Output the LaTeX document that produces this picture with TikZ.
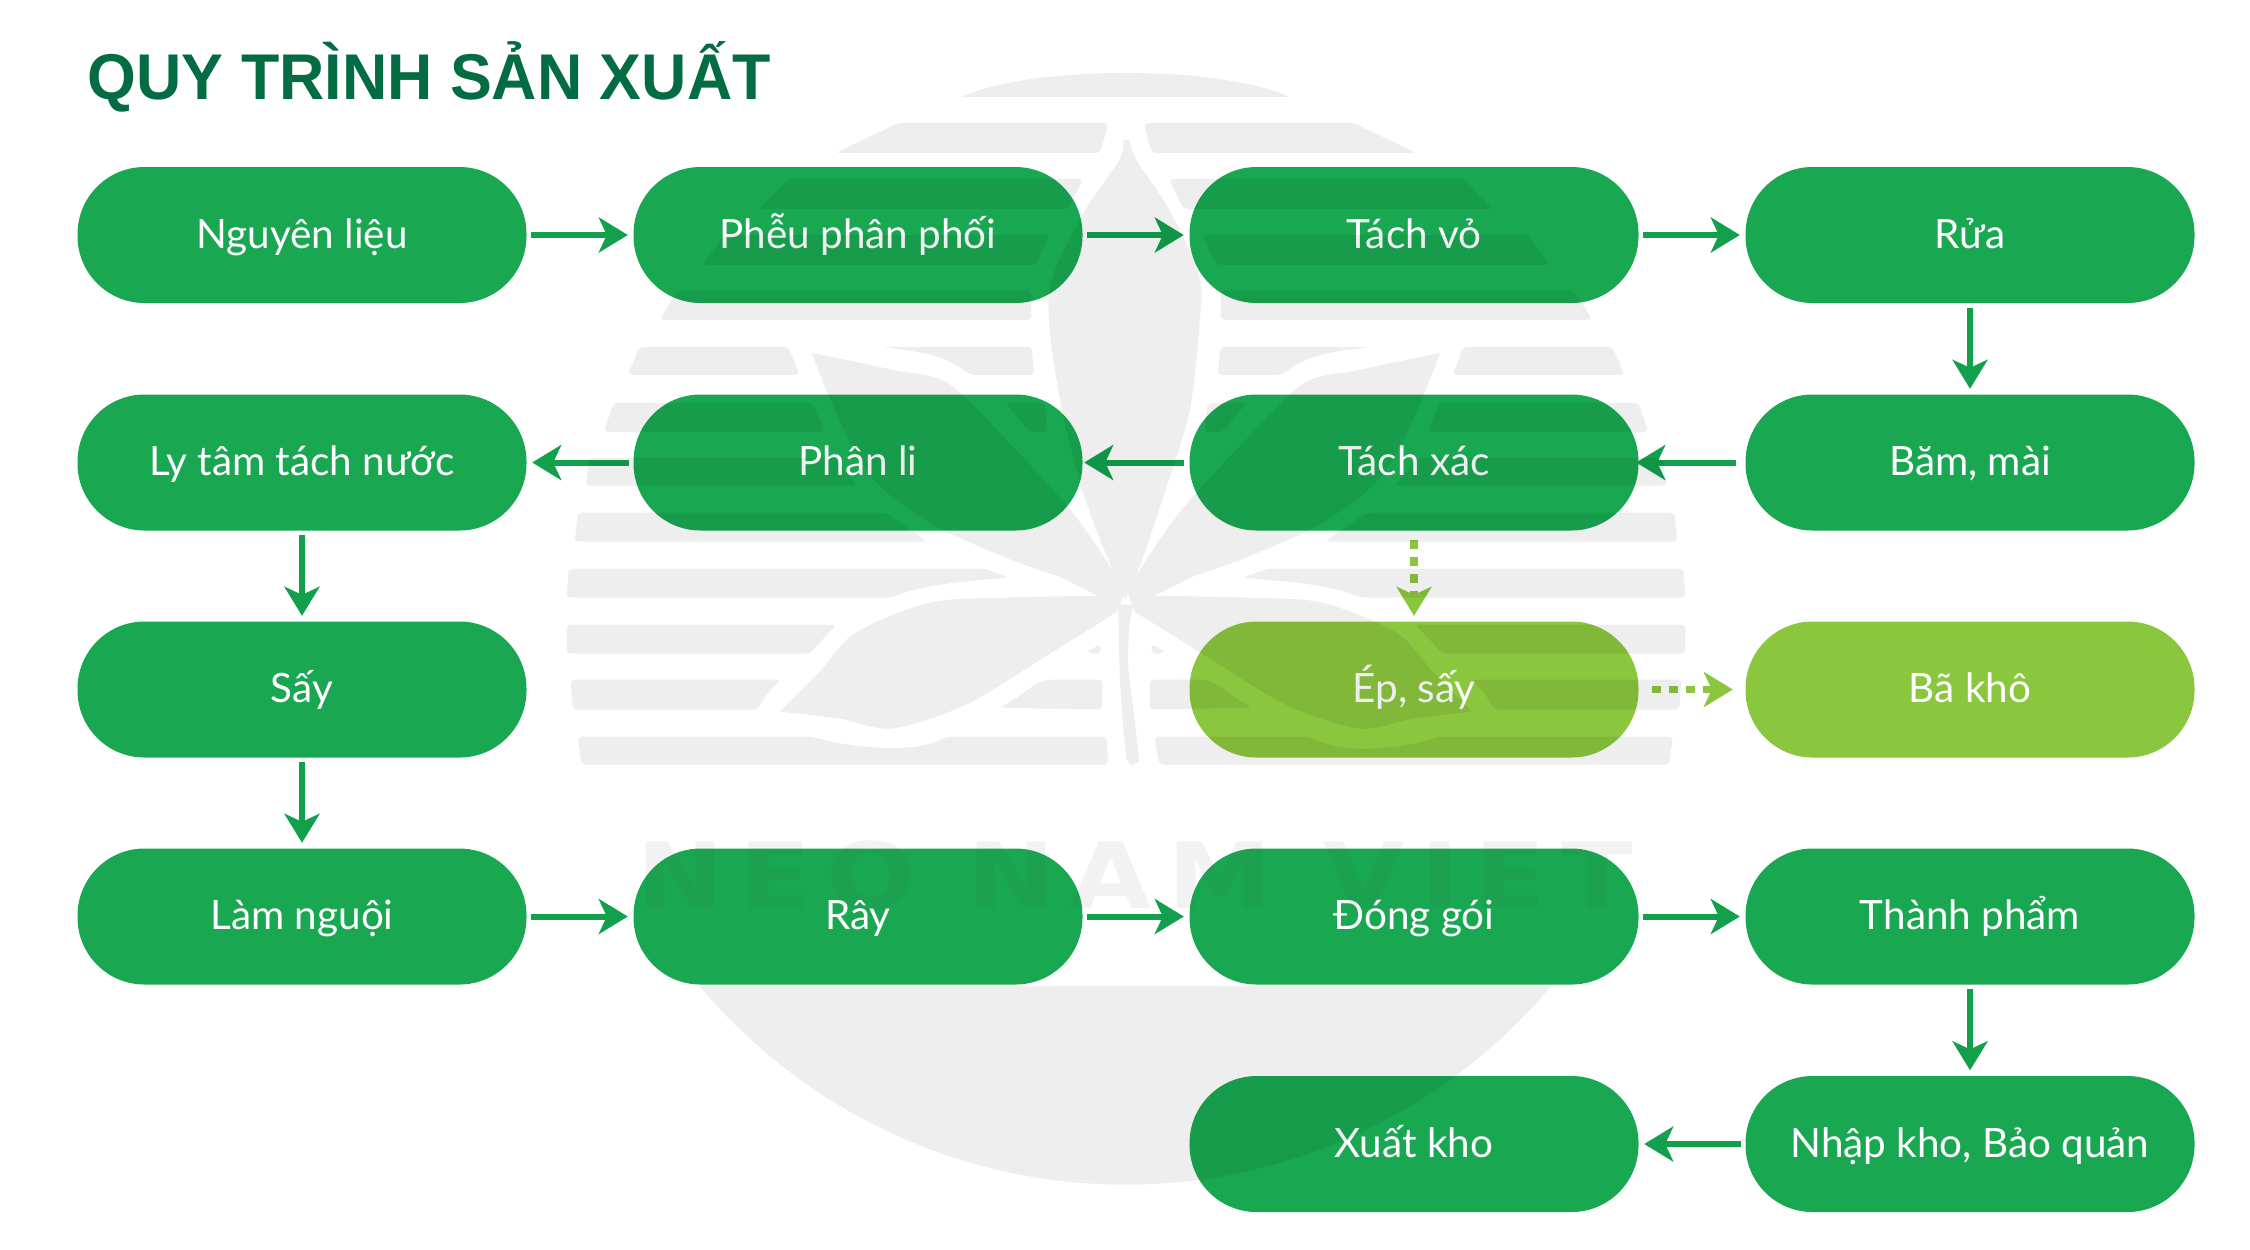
\documentclass[tikz,border=0pt]{standalone}
\usepackage{fontspec}
\setmainfont{Lato}
\newfontfamily\titlefont{Liberation Sans}
\newfontfamily\markfont{DejaVu Sans}[LetterSpace=14.5]
\usepackage{tikz}
\usetikzlibrary{arrows.meta, positioning}
\definecolor{pillgreen}{HTML}{19A851}
\definecolor{pilllime}{HTML}{8BC63F}
\definecolor{flowgreen}{HTML}{12A04C}
\definecolor{titlegreen}{HTML}{046C43}

\begin{document}
\begin{tikzpicture}[
    stepbox/.style={rectangle, rounded corners=0.67cm, minimum width=4.49cm, minimum height=1.36cm, fill=pillgreen, text=white, text height=0.36cm, text depth=0.10cm, font=\fontsize{11.5}{13}\selectfont},
    bybox/.style={stepbox, fill=pilllime},
    flow/.style={-{Stealth[length=0.29cm, width=0.35cm, inset=0.08cm]}, line width=0.06cm, flowgreen, shorten <=0.04cm, shorten >=0.05cm},
    byflow/.style={-{Stealth[length=0.29cm, width=0.35cm, inset=0.08cm]}, line width=0.075cm, pilllime, dash pattern=on 0.09cm off 0.08cm, shorten <=0.09cm, shorten >=0.05cm},
    stripe/.style={fill=black, rounded corners=0.04cm}
]
\useasboundingbox (0,0) rectangle (22.5,-12.49);

% Title
\node[anchor=base west, inner sep=0, text=titlegreen, font=\titlefont\bfseries\fontsize{18.4}{20}\selectfont] (title) at (0.87,-0.99) {\scalebox{0.97}[1]{QUY TRÌNH SẢN XUẤT}};

% Row 1
\node[stepbox] (nguyenlieu) at (3.02,-2.35) {Nguyên liệu};
\node[stepbox] (pheu) at (8.58,-2.35) {Phễu phân phối};
\node[stepbox] (tachvo) at (14.14,-2.35) {Tách vỏ};
\node[stepbox] (rua) at (19.70,-2.35) {Rửa};

% Row 2
\node[stepbox] (lytam) at (3.02,-4.625) {Ly tâm tách nước};
\node[stepbox] (phanli) at (8.58,-4.625) {Phân li};
\node[stepbox] (tachxac) at (14.14,-4.625) {Tách xác};
\node[stepbox] (bam) at (19.70,-4.625) {Băm, mài};

% Row 3
\node[stepbox] (say) at (3.02,-6.895) {Sấy};
\node[bybox] (epsay) at (14.14,-6.895) {Ép, sấy};
\node[bybox] (bakho) at (19.70,-6.895) {Bã khô};

% Row 4
\node[stepbox] (lamnguoi) at (3.02,-9.165) {Làm nguội};
\node[stepbox] (ray) at (8.58,-9.165) {Rây};
\node[stepbox] (donggoi) at (14.14,-9.165) {Đóng gói};
\node[stepbox] (thanhpham) at (19.70,-9.165) {Thành phẩm};

% Row 5
\node[stepbox] (xuatkho) at (14.14,-11.44) {Xuất kho};
\node[stepbox] (nhapkho) at (19.70,-11.44) {Nhập kho, Bảo quản};

% Main line
\draw[flow] (nguyenlieu) -- (pheu);
\draw[flow] (pheu) -- (tachvo);
\draw[flow] (tachvo) -- (rua);
\draw[flow] (rua) -- (bam);
\draw[flow, shorten <=0.09cm, shorten >=-0.03cm] (bam) -- (tachxac);
\draw[flow, shorten <=0.05cm, shorten >=0.01cm] (tachxac) -- (phanli);
\draw[flow] (phanli) -- (lytam);
\draw[flow] (lytam) -- (say);
\draw[flow] (say) -- (lamnguoi);
\draw[flow] (lamnguoi) -- (ray);
\draw[flow] (ray) -- (donggoi);
\draw[flow] (donggoi) -- (thanhpham);
\draw[flow] (thanhpham) -- (nhapkho);
\draw[flow] (nhapkho) -- (xuatkho);

% By-product line
\draw[byflow] (tachxac) -- (epsay);
\draw[byflow, shorten <=0.13cm, shorten >=0.12cm] (epsay) -- (bakho);

% Watermark, laid over the boxes
\begin{scope}[transparency group, opacity=0.065, x=0.01cm, y=-0.01cm]
    % Top cap and bottom bowl
    \fill[black] (962,97) .. controls (1030,65) and (1222,65) .. (1290,97) -- cycle;
    \begin{scope}
        \clip (690,987) rectangle (1560,1195);
        \fill[black] (1126,629) circle (5.56cm);
    \end{scope}

    % Left half of the stripes and leaves, then its mirror image
    \foreach \flip/\offset in {1/0, -1/22.52} {
    \begin{scope}[xshift=\offset cm, xscale=\flip]
        \fill[stripe] (836,153) -- (899,123) -- (1109,123) -- (1101,153) -- cycle;
        \fill[stripe] (760,209) -- (789,179) -- (1084,179) -- (1069,209) -- cycle;
        \fill[stripe] (703,265) -- (725,235) -- (1050,235) -- (1036,265) -- cycle;
        \fill[stripe] (660,320) -- (678,291) -- (1032,291) -- (1032,320) -- cycle;
        \fill[stripe] (628,375) -- (640,347) -- (789,347) -- (800,375) -- cycle;
        \fill[stripe] (971,375) .. controls (940,352) and (915,352) .. (882,347) -- (1032,347) -- (1035,375) -- cycle;
        \fill[stripe] (604,432) -- (614,403) -- (813,403) -- (825,432) -- cycle;
        \fill[stripe] (1030,432) -- (1006,403) -- (1045,403) -- (1048,432) -- cycle;
        \fill[stripe] (586,486) -- (590,458) -- (835,458) -- (858,486) -- cycle;
        \fill[stripe] (575,542) -- (578,513) -- (886,513) -- (928,542) -- cycle;
        \fill[stripe] (567,598) -- (569,569) -- (985,569) -- (1010,578) .. controls (960,582) and (925,585) .. (891,598) -- cycle;
        \fill[stripe] (567,654) -- (567,625) -- (837,625) -- (810,654) -- cycle;
        \fill[stripe] (573,710) -- (571,680) -- (782,680) .. controls (770,690) and (765,698) .. (758,710) -- cycle;
        \fill[stripe] (1000,708) .. controls (1025,695) and (1035,682) .. (1052,680) -- (1103,680) -- (1103,710) -- cycle;
        \fill[black, rounded corners=0.02cm] (1088,652) -- (1100,645) -- (1102,651) -- (1097,655) -- cycle;

        % Side leaves
        \fill[black] plot[smooth] coordinates {(812,353) (893,370) (948,383) (1004,437) (1071,510) (1113,570)}
            -- (1126,590) -- (1100,597)
            -- plot[smooth] coordinates {(1060,577) (1004,557) (930,523) (874,480) (841,423) (812,353)} -- cycle;
        \fill[black] plot[smooth] coordinates {(780,712) (819,673) (856,633) (930,603) (1004,598) (1102,596)}
            -- (1126,590) -- (1118,612)
            -- plot[smooth] coordinates {(1118,612) (1041,660) (967,705) (893,729) (840,719) (780,712)} -- cycle;
    \end{scope}
    }

    % Bottom stripe, not quite even about the stem
    \fill[stripe] (582,765) -- (578,737) -- (812,737) .. controls (850,748) and (915,755) .. (948,737) -- (1107,737) -- (1109,765) -- cycle;
    \fill[stripe] (1160,765) -- (1155,737) -- (1310,737) .. controls (1345,755) and (1400,750) .. (1440,737) -- (1674,737) -- (1670,765) -- cycle;

    % Upright leaf and stem
    \fill[black] plot[smooth] coordinates {(1124,140) (1120,160) (1086,210) (1053,277) (1050,327) (1063,413) (1085,497) (1113,570)}
        -- (1126,600) -- (1142,563)
        -- plot[smooth] coordinates {(1142,563) (1164,497) (1190,413) (1200,327) (1200,277) (1170,210) (1137,160) (1130,140)} -- cycle;
    \fill[black] plot[smooth] coordinates {(1119,605) (1120,667) (1123,717) (1127,760)}
        -- (1132,766) -- (1140,762)
        -- plot[smooth] coordinates {(1140,762) (1135,717) (1129,667) (1130,627) (1134,605)} -- cycle;

    % Company name
    \node[anchor=west, inner sep=0, text=black!75, font=\markfont\bfseries\fontsize{26}{28}\selectfont] (markname) at (636,876) {\scalebox{1.15}[1]{NEO NAM VIET}};
\end{scope}
\end{tikzpicture}
\end{document}
